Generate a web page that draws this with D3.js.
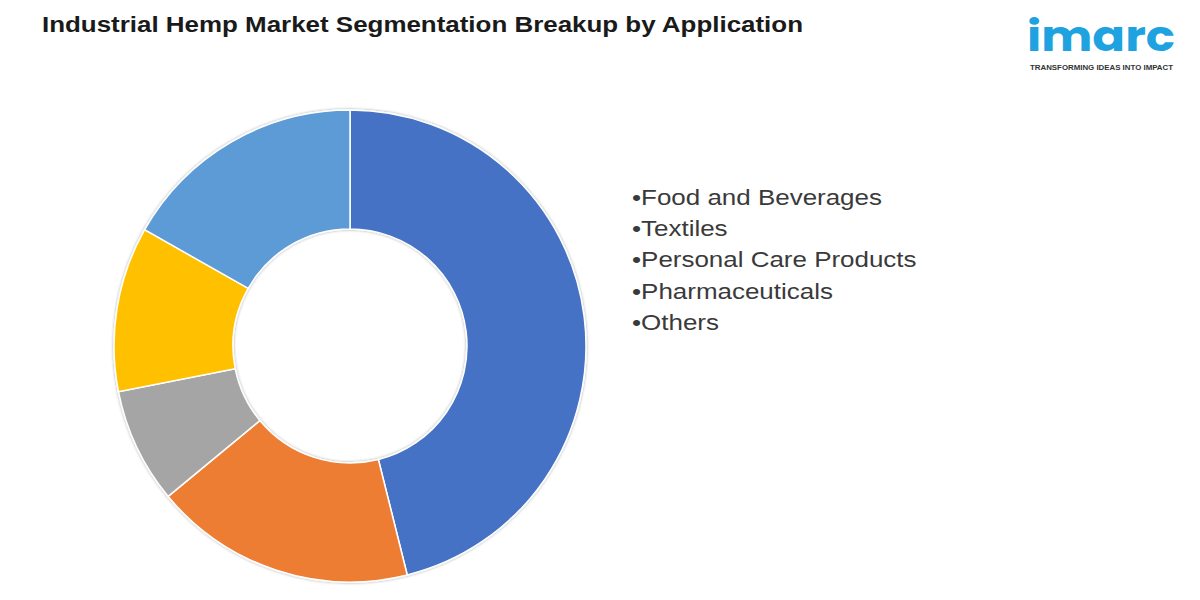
<!DOCTYPE html>
<html><head><meta charset="utf-8">
<script src="https://cdn.jsdelivr.net/npm/d3@7"></script>
<style>body{margin:0;background:#fff;}svg{display:block;}</style>
</head><body>
<svg id="chart" width="1200" height="600"></svg>
<script>
const categories = ["Food and Beverages","Textiles","Personal Care Products","Pharmaceuticals","Others"];
const values = [46.1, 17.9, 7.9, 11.3, 16.8];
const colors = ["#4472C4","#ED7D31","#A5A5A5","#FFC000","#5B9BD5"];
const legendLabels = ["Food and Beverages","Textiles","Personal Care Products","Pharmaceuticals","Others"];

const svg = d3.select("#chart");
const defs = svg.append("defs");
const f = defs.append("filter").attr("id","sh").attr("x","-10%").attr("y","-10%").attr("width","120%").attr("height","120%");
f.append("feDropShadow").attr("dx",0).attr("dy",0).attr("stdDeviation",1.5).attr("flood-color","#000").attr("flood-opacity",0.35);

svg.append("text").attr("x",42).attr("y",32)
  .attr("font-family","Liberation Sans, Arial, sans-serif").attr("font-weight","bold")
  .attr("font-size",22).attr("fill","#1a1a1a")
  .attr("textLength",761).attr("lengthAdjust","spacingAndGlyphs")
  .text("Industrial Hemp Market Segmentation Breakup by Application");

const cx = 350, cy = 346, R = 236, r0 = 117;
const pie = d3.pie().sort(null).value(d => d.v);
const arc = d3.arc().innerRadius(r0).outerRadius(R);
const data = categories.map((c,i)=>({c, v: values[i], col: colors[i]}));
const g = svg.append("g").attr("transform",`translate(${cx},${cy})`).attr("filter","url(#sh)");
g.selectAll("path").data(pie(data)).join("path")
  .attr("d", arc).attr("fill", d => d.data.col)
  .attr("stroke","#fff").attr("stroke-width",1.5);

const lg = svg.append("g").attr("transform","translate(632,0) scale(1.18,1)")
  .attr("font-family","Liberation Sans, Arial, sans-serif").attr("font-size",22).attr("fill","#3a3a3a");
lg.selectAll("text").data(legendLabels).join("text")
  .attr("x",0).attr("y",(d,i)=>205 + i*31.2)
  .text(d => "\u2022" + d);

// logo
const logo = svg.append("g");
logo.append("text").attr("x",1027).attr("y",51)
  .attr("font-family","Poppins, Lato, 'Open Sans', sans-serif").attr("font-weight","bold")
  .attr("font-size",42).attr("fill","#1FA3E0")
  .attr("textLength",148).attr("lengthAdjust","spacingAndGlyphs")
  .text("imarc");
logo.append("text").attr("x",1030).attr("y",70)
  .attr("font-family","Liberation Sans, Arial, sans-serif").attr("font-weight","bold")
  .attr("font-size",6.5).attr("fill","#333")
  .attr("textLength",143).attr("lengthAdjust","spacingAndGlyphs")
  .text("TRANSFORMING IDEAS INTO IMPACT");
</script>
</body></html>
